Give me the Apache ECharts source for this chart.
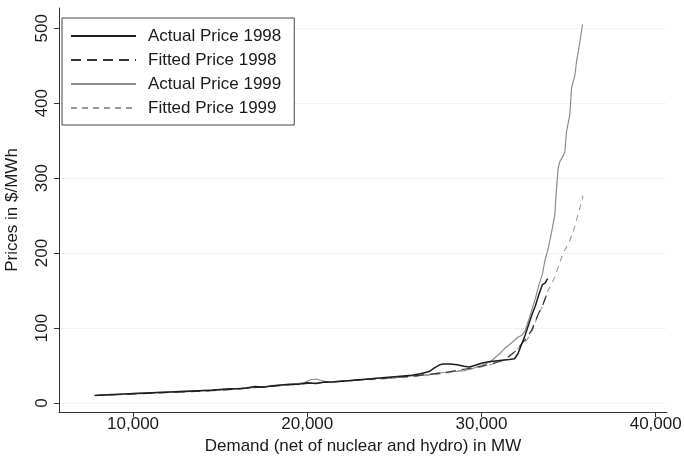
<!DOCTYPE html>
<html>
<head>
<meta charset="utf-8">
<script src="https://cdn.jsdelivr.net/npm/echarts@6/dist/echarts.min.js"></script>
<style>
html,body{margin:0;padding:0;background:#fff;}
#c{width:684px;height:457px;}
</style>
</head>
<body>
<div id="c"></div>
<script>
// ---- data ----
var xTicks = [10000, 20000, 30000, 40000];
var yTicks = [0, 100, 200, 300, 400, 500];

var actual1998X = [7800, 8500, 9500, 10500, 11500, 12500, 13500, 14500, 15000, 15500, 16000, 16500, 17000, 17500, 18000, 18500, 19000, 19500, 20000, 20500, 21000, 21500, 22000, 22500, 23000, 23500, 24000, 24500, 25000, 25500, 26000, 26500, 27000, 27300, 27600, 27800, 28200, 28600, 29000, 29300, 29600, 30000, 30400, 30800, 31200, 31600, 31900, 32100, 32300, 32500, 32700, 32900, 33100, 33300, 33500, 33650, 33800];
var actual1998Y = [10, 11, 12, 13, 14, 15, 16, 17, 18, 19, 19, 20, 22, 21, 23, 24, 25, 25, 27, 26, 28, 28, 29, 30, 31, 32, 33, 34, 35, 36, 37, 39, 42, 47, 51, 52, 52, 51, 49, 48, 50, 53, 55, 56, 57, 58, 59, 66, 78, 90, 104, 118, 130, 145, 158, 160, 166];

var fitted1998X = [7800, 10000, 15000, 20000, 25000, 27000, 28000, 29000, 30000, 31000, 31500, 32000, 32300, 32600, 32900, 33250, 33540, 33800];
var fitted1998Y = [10, 12, 17, 26, 34, 38, 41, 45, 49, 55, 61, 70, 79, 87, 98, 118, 132, 148];

var actual1999X = [7800, 9000, 10000, 11000, 12000, 13000, 14000, 15000, 16000, 17000, 18000, 19000, 19800, 20200, 20500, 20800, 21200, 22000, 23000, 24000, 25000, 26000, 27000, 27500, 28000, 28500, 29000, 29500, 30000, 30500, 31060, 31340, 31720, 32100, 32300, 32500, 32700, 32900, 33100, 33300, 33500, 33640, 33830, 34000, 34210, 34310, 34400, 34500, 34650, 34785, 34880, 35070, 35170, 35360, 35455, 35650, 35800];
var actual1999Y = [10, 11, 13, 14, 15, 16, 17, 18, 19, 21, 23, 25, 27, 31, 32, 30, 28, 29, 31, 33, 34, 36, 38, 40, 41, 42, 43, 46, 50, 55, 66, 73, 80, 88, 90, 96, 110, 125, 140, 158, 172, 190, 206, 225, 251, 286, 313, 322, 328, 335, 362, 384, 420, 437, 455, 482, 505];

var fitted1999X = [7800, 10000, 15000, 20000, 22000, 25000, 27000, 28000, 29000, 30000, 31000, 31500, 32000, 32300, 32600, 32900, 33250, 33540, 33730, 34000, 34210, 34500, 34690, 35000, 35260, 35500, 35740, 35830];
var fitted1999Y = [10, 12, 17, 26, 29, 33, 37, 40, 44, 48, 54, 60, 70, 78, 84, 95, 118, 130, 146, 158, 168, 188, 200, 213, 228, 248, 268, 277];

var names = ['Actual Price 1998', 'Fitted Price 1998', 'Actual Price 1999', 'Fitted Price 1999'];

function pairs(xs, ys) {
  var out = [];
  for (var i = 0; i < xs.length; i++) out.push([xs[i], ys[i]]);
  return out;
}
function fmtThousands(v) {
  return String(v).replace(/\B(?=(\d{3})+(?!\d))/g, ',');
}

var FONT = 'Liberation Sans, Arial, sans-serif';
var chart = echarts.init(document.getElementById('c'), null, {renderer: 'canvas'});
chart.setOption({
  animation: false,
  backgroundColor: '#ffffff',
  textStyle: {fontFamily: FONT},
  grid: {left: 59, right: 17, top: 8, bottom: 45, containLabel: false, outerBoundsMode: 'none'},
  legend: {
    orient: 'vertical',
    left: 62,
    top: 18,
    width: 220,
    padding: [9, 13, 8, 8],
    itemWidth: 65,
    itemHeight: 14,
    itemGap: 6,
    borderColor: '#444',
    borderWidth: 1,
    backgroundColor: '#fff',
    data: names,
    itemStyle: {opacity: 0},
    textStyle: {fontSize: 17, color: '#1a1a1a', fontFamily: FONT, lineHeight: 18, padding: [0, 0, 0, 7]}
  },
  xAxis: {
    type: 'value',
    min: 5750,
    max: 40650,
    name: 'Demand (net of nuclear and hydro) in MW',
    nameLocation: 'middle',
    nameGap: 24,
    nameTextStyle: {fontSize: 17, color: '#1a1a1a', fontFamily: FONT},
    axisLine: {show: true, onZero: false, lineStyle: {color: '#333', width: 1}},
    axisTick: {show: true, length: 5, lineStyle: {color: '#333'}, customValues: xTicks},
    axisLabel: {fontSize: 17, color: '#1a1a1a', margin: 4, customValues: xTicks, formatter: function (v) { return fmtThousands(v); }},
    splitLine: {show: false}
  },
  yAxis: {
    type: 'value',
    min: -12,
    max: 527,
    name: 'Prices in $/MWh',
    nameLocation: 'middle',
    nameRotate: 90,
    nameGap: 38,
    nameTextStyle: {fontSize: 17, color: '#1a1a1a', fontFamily: FONT},
    axisLine: {show: true, onZero: false, lineStyle: {color: '#333', width: 1}},
    axisTick: {show: true, length: 5, lineStyle: {color: '#333'}, customValues: yTicks},
    axisLabel: {fontSize: 17, color: '#1a1a1a', rotate: 90, margin: 8, customValues: yTicks},
    splitLine: {show: true, lineStyle: {color: '#e4e4e4', type: 'dotted', width: 1}}
  },
  series: [
    {name: names[0], type: 'line', data: pairs(actual1998X, actual1998Y), symbol: 'none', showSymbol: false, z: 5,
     lineStyle: {color: '#1e1e1e', width: 1.5}, itemStyle: {color: '#1e1e1e'}},
    {name: names[1], type: 'line', data: pairs(fitted1998X, fitted1998Y), symbol: 'none', showSymbol: false, z: 4,
     lineStyle: {color: '#333', width: 1.2, type: [10, 6]}, itemStyle: {color: '#333'}},
    {name: names[2], type: 'line', data: pairs(actual1999X, actual1999Y), symbol: 'none', showSymbol: false, z: 3,
     lineStyle: {color: '#8c8c8c', width: 1.2}, itemStyle: {color: '#8c8c8c'}},
    {name: names[3], type: 'line', data: pairs(fitted1999X, fitted1999Y), symbol: 'none', showSymbol: false, z: 2,
     lineStyle: {color: '#999', width: 1.1, type: [6, 5]}, itemStyle: {color: '#999'}}
  ]
});
</script>
</body>
</html>
